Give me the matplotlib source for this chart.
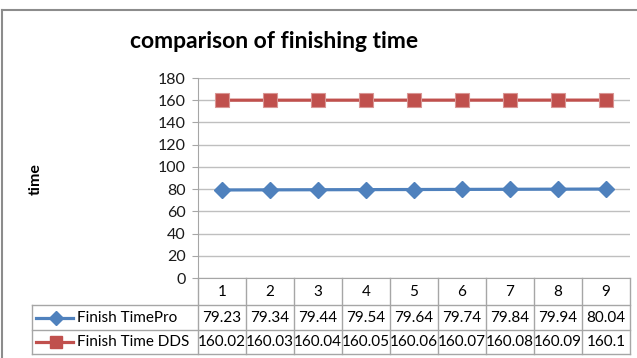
import matplotlib
matplotlib.use('Agg')
import matplotlib.pyplot as plt
import matplotlib.transforms as mtransforms
from matplotlib.lines import Line2D

plt.rcParams['font.family'] = ['Lato', 'DejaVu Sans']

# data
runs = [1, 2, 3, 4, 5, 6, 7, 8, 9]
finish_pro = [79.23, 79.34, 79.44, 79.54, 79.64, 79.74, 79.84, 79.94, 80.04]
finish_dds = [160.02, 160.03, 160.04, 160.05, 160.06, 160.07, 160.08, 160.09, 160.1]
series_names = ['Finish TimePro', 'Finish Time DDS']
y_ticks = [0, 20, 40, 60, 80, 100, 120, 140, 160, 180]

BLUE = '#4F81BD'
RED = '#C0504D'
GRID = '#BFBFBF'
EDGE = '#A6A6A6'

W, H = 637, 358
fig = plt.figure(figsize=(W / 100, H / 100), dpi=100)

def fx(px):
    return px / W

def fy(py):
    return 1 - py / H

# chart frame
fig.add_artist(Line2D([fx(2), fx(637)], [fy(10), fy(10)], color='#8C8C8C', lw=1.5))
fig.add_artist(Line2D([fx(2), fx(2)], [fy(10), fy(358)], color='#8C8C8C', lw=1.5))

left, right, top, bottom = 198, 630, 78, 278
ax = fig.add_axes([fx(left), fy(bottom), (right - left) / W, (bottom - top) / H])

ax.plot(runs, finish_pro, color=BLUE, lw=2.3, marker='D', ms=8, mfc=BLUE, mec=BLUE, zorder=3)
ax.plot(runs, finish_dds, color=RED, lw=2.3, marker='s', ms=10, mfc=RED, mec='#D99694', mew=0.8, zorder=3)

ax.set_xlim(0.5, 9.5)
ax.set_ylim(0, 180)
ax.set_yticks(y_ticks)
ax.set_xticks([])
ax.yaxis.grid(True, color=GRID, lw=1)
ax.set_axisbelow(True)
for s in ['top', 'right']:
    ax.spines[s].set_visible(False)
ax.spines['left'].set_color(EDGE)
ax.spines['bottom'].set_color(EDGE)
ax.tick_params(axis='y', length=4, color=EDGE, labelsize=11.5, pad=5, labelcolor='#1a1a1a')

fig.text(fx(274), fy(42), 'comparison of finishing time', ha='center', va='center',
         fontsize=16.5, fontweight='bold')
fig.text(fx(36), fy(179), 'time', rotation=90, ha='center', va='center',
         fontsize=11.5, fontweight='bold')

# data table under the axis
trans = mtransforms.blended_transform_factory(ax.transData, ax.transAxes)
col_w = (right - left) / len(runs)

def ax_y(py):
    return (bottom - py) / (bottom - top)

def dx(px):
    return 0.5 + (px - left) / col_w

row_edges = [278, 305, 330, 354]
tbl_left = 32
fs = 11

# vertical lines
for i in range(len(runs) + 1):
    ax.add_line(Line2D([0.5 + i, 0.5 + i], [ax_y(row_edges[0]), ax_y(row_edges[-1])],
                       transform=trans, color=EDGE, lw=1, clip_on=False))
ax.add_line(Line2D([dx(tbl_left), dx(tbl_left)], [ax_y(row_edges[1]), ax_y(row_edges[-1])],
                   transform=trans, color=EDGE, lw=1, clip_on=False))
# horizontal lines
for py in row_edges[1:]:
    ax.add_line(Line2D([dx(tbl_left), 9.5], [ax_y(py), ax_y(py)],
                       transform=trans, color=EDGE, lw=1, clip_on=False))

centers = [(row_edges[k] + row_edges[k + 1]) / 2 for k in range(3)]
for r in runs:
    ax.text(r, ax_y(centers[0]), str(r), transform=trans, ha='center', va='center', fontsize=fs)
for r, v in zip(runs, finish_pro):
    ax.text(r, ax_y(centers[1]), '{:g}'.format(v), transform=trans, ha='center', va='center', fontsize=fs)
for r, v in zip(runs, finish_dds):
    ax.text(r, ax_y(centers[2]), '{:g}'.format(v), transform=trans, ha='center', va='center', fontsize=fs)

# legend keys in the table
for k, (name, col, mk, ms) in enumerate(zip(series_names, [BLUE, RED], ['D', 's'], [7, 9])):
    yy = ax_y(centers[k + 1])
    ax.add_line(Line2D([dx(36), dx(73)], [yy, yy], transform=trans, color=col, lw=2.3, clip_on=False))
    ax.add_line(Line2D([dx(56)], [yy], transform=trans, color=col, marker=mk, ms=ms, clip_on=False))
    ax.text(dx(77), yy, name, transform=trans, ha='left', va='center', fontsize=fs)

fig.savefig('out.png', dpi=100)
